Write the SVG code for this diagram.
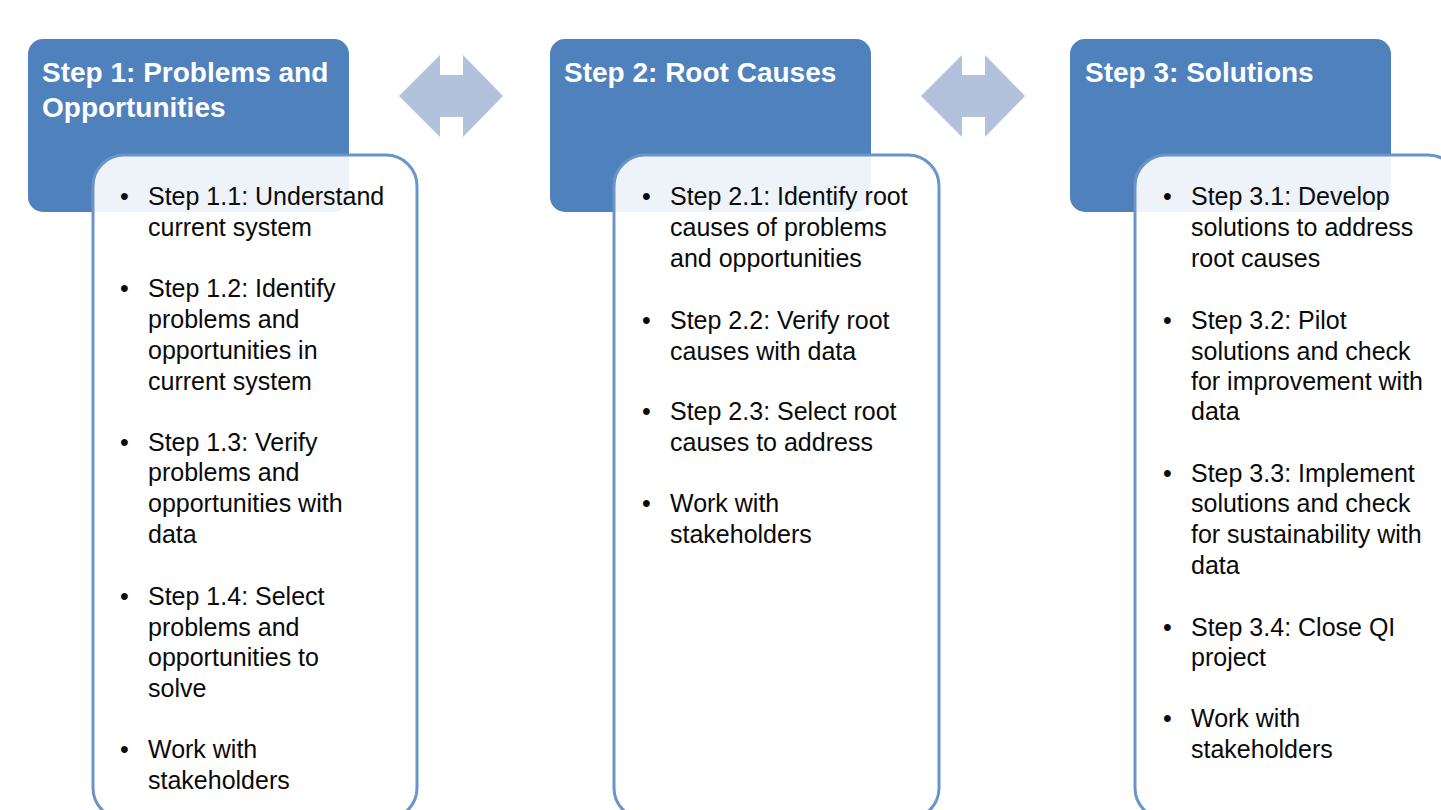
<svg xmlns="http://www.w3.org/2000/svg" width="1441" height="810" viewBox="0 0 1441 810">
<style>
.hdr{fill:#4f81bd}
.card{fill:#ffffff;fill-opacity:0.9;stroke:#6b94c9;stroke-width:3}
.ht{font-family:"Liberation Sans",Arial,sans-serif;font-weight:bold;font-size:28px;fill:#ffffff}
.bt{font-family:"Liberation Sans",Arial,sans-serif;font-size:25px;fill:#0a0a0a}
.arr{fill:#b3c2dc}
</style>
<rect width="1441" height="810" fill="#ffffff"/>
<g id="step1">
<rect class="hdr" x="28" y="39" width="321" height="173" rx="15"/>
<text class="ht" x="42" y="82">Step 1: Problems and</text>
<text class="ht" x="42" y="117">Opportunities</text>
<rect class="card" x="93" y="155" width="324" height="664" rx="31"/>
<g class="bt">
<text x="120" y="205">•</text><text x="148" y="205">Step 1.1: Understand</text>
<text x="148" y="236">current system</text>
<text x="120" y="297">•</text><text x="148" y="297">Step 1.2: Identify</text>
<text x="148" y="328">problems and</text>
<text x="148" y="359">opportunities in</text>
<text x="148" y="390">current system</text>
<text x="120" y="451">•</text><text x="148" y="451">Step 1.3: Verify</text>
<text x="148" y="481">problems and</text>
<text x="148" y="512">opportunities with</text>
<text x="148" y="543">data</text>
<text x="120" y="605">•</text><text x="148" y="605">Step 1.4: Select</text>
<text x="148" y="636">problems and</text>
<text x="148" y="666">opportunities to</text>
<text x="148" y="697">solve</text>
<text x="120" y="758">•</text><text x="148" y="758">Work with</text>
<text x="148" y="789">stakeholders</text>
</g>
</g>
<g id="step2">
<rect class="hdr" x="550" y="39" width="321" height="173" rx="15"/>
<text class="ht" x="564" y="82">Step 2: Root Causes</text>
<rect class="card" x="614" y="155" width="325" height="664" rx="31"/>
<g class="bt">
<text x="642" y="205">•</text><text x="670" y="205">Step 2.1: Identify root</text>
<text x="670" y="236">causes of problems</text>
<text x="670" y="267">and opportunities</text>
<text x="642" y="329">•</text><text x="670" y="329">Step 2.2: Verify root</text>
<text x="670" y="360">causes with data</text>
<text x="642" y="420">•</text><text x="670" y="420">Step 2.3: Select root</text>
<text x="670" y="451">causes to address</text>
<text x="642" y="512">•</text><text x="670" y="512">Work with</text>
<text x="670" y="543">stakeholders</text>
</g>
</g>
<g id="step3">
<rect class="hdr" x="1070" y="39" width="321" height="173" rx="15"/>
<text class="ht" x="1085" y="82">Step 3: Solutions</text>
<rect class="card" x="1135" y="155" width="324" height="664" rx="31"/>
<g class="bt">
<text x="1163" y="205">•</text><text x="1191" y="205">Step 3.1: Develop</text>
<text x="1191" y="236">solutions to address</text>
<text x="1191" y="267">root causes</text>
<text x="1163" y="329">•</text><text x="1191" y="329">Step 3.2: Pilot</text>
<text x="1191" y="360">solutions and check</text>
<text x="1191" y="390">for improvement with</text>
<text x="1191" y="420">data</text>
<text x="1163" y="482">•</text><text x="1191" y="482">Step 3.3: Implement</text>
<text x="1191" y="512">solutions and check</text>
<text x="1191" y="543">for sustainability with</text>
<text x="1191" y="574">data</text>
<text x="1163" y="636">•</text><text x="1191" y="636">Step 3.4: Close QI</text>
<text x="1191" y="666">project</text>
<text x="1163" y="727">•</text><text x="1191" y="727">Work with</text>
<text x="1191" y="758">stakeholders</text>
</g>
</g>
<g id="connectors">
<polygon class="arr" points="399,96 440,55 440,75 463,75 463,55 503,96 463,137 463,117 440,117 440,137"/>
<polygon class="arr" points="921,96 962,55 962,75 985,75 985,55 1025,96 985,137 985,117 962,117 962,137"/>
</g>
</svg>
